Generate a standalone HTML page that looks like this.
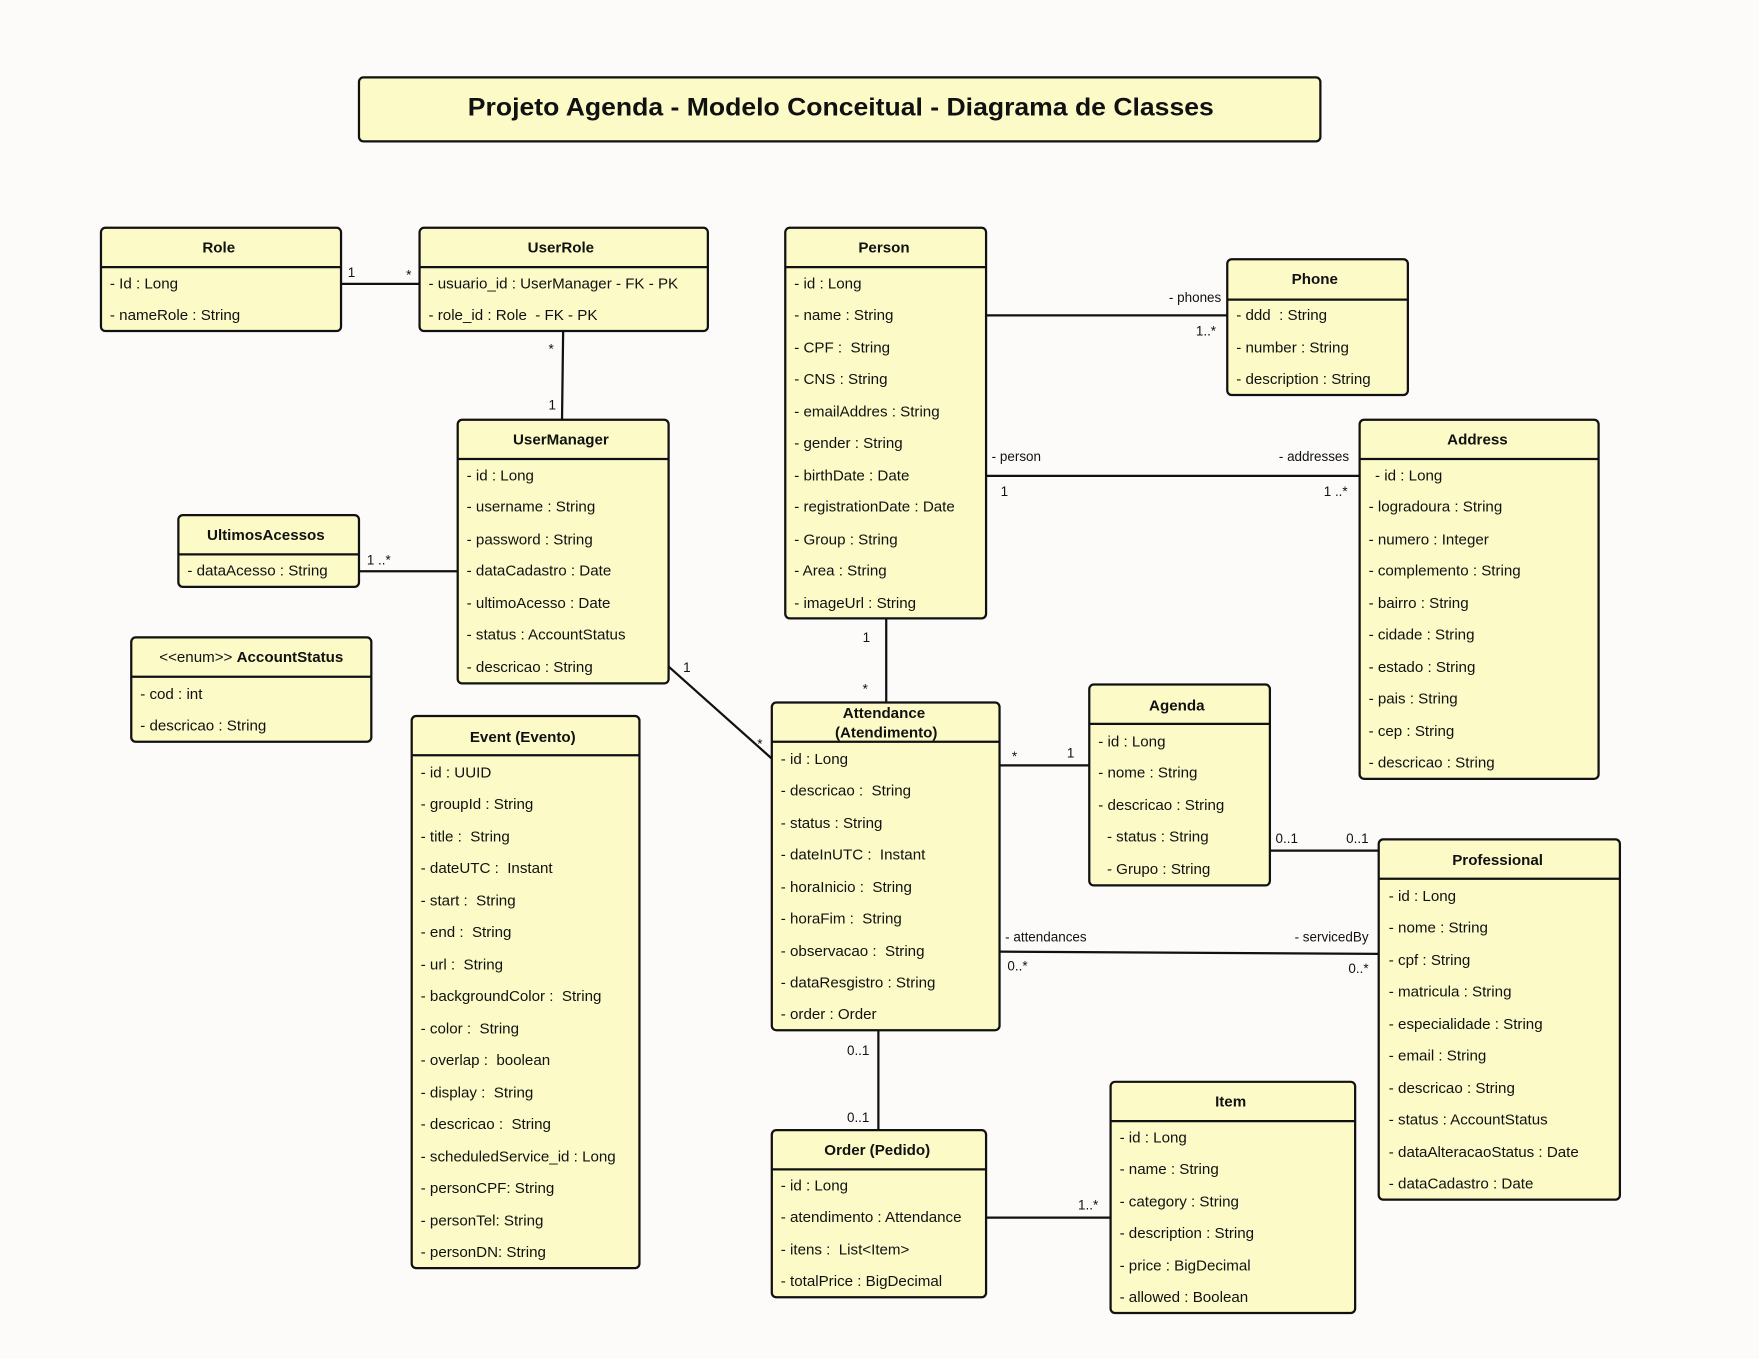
<!DOCTYPE html>
<html><head><meta charset="utf-8"><style>
html,body{margin:0;padding:0;background:#fdfafa;}
svg{display:block;}
text{font-family:"Liberation Sans",Arial,sans-serif;fill:#111;white-space:pre;}
.r{font-size:13.5px;}
.h{font-size:13.5px;font-weight:bold;text-anchor:middle;}
.s{font-size:12px;}
.b{fill:#fcfbc8;stroke:#111;stroke-width:2;}
.l{stroke:#111;stroke-width:2;fill:none;}
</style></head><body>
<svg width="1759" height="1359" viewBox="0 0 1568 1211" preserveAspectRatio="none" xml:space="preserve">
<rect x="0" y="0" width="1568" height="1211" fill="#fdfafa"/>
<rect class="b" x="320" y="69" width="857" height="57" rx="4"/>
<text x="417" y="103" textLength="665" lengthAdjust="spacingAndGlyphs" style="font-size:22px;font-weight:bold">Projeto Agenda - Modelo Conceitual - Diagrama de Classes</text>

<line class="l" x1="304" y1="253" x2="374" y2="253"/>
<text class="s" x="310" y="247">1</text><text class="s" x="362" y="249">*</text>
<line class="l" x1="502" y1="295" x2="501" y2="374"/>
<text class="s" x="489" y="315">*</text><text class="s" x="489" y="365">1</text>
<line class="l" x1="320" y1="509" x2="408" y2="509"/>
<text class="s" x="327" y="503">1 ..*</text>
<line class="l" x1="596" y1="594" x2="688" y2="676"/>
<text class="s" x="609" y="599">1</text><text class="s" x="675" y="667">*</text>
<line class="l" x1="879" y1="281" x2="1094" y2="281"/>
<text class="s" x="1042" y="269">- phones</text><text class="s" x="1066" y="299">1..*</text>
<line class="l" x1="879" y1="424" x2="1212" y2="424"/>
<text class="s" x="884" y="411">- person</text><text class="s" x="892" y="442">1</text>
<text class="s" x="1140" y="411">- addresses</text><text class="s" x="1180" y="442">1 ..*</text>
<line class="l" x1="790" y1="551" x2="790" y2="626"/>
<text class="s" x="769" y="572">1</text><text class="s" x="769" y="618">*</text>
<line class="l" x1="891" y1="682" x2="971" y2="682"/>
<text class="s" x="902" y="678">*</text><text class="s" x="951" y="675">1</text>
<line class="l" x1="1132" y1="758" x2="1229" y2="758"/>
<text class="s" x="1137" y="751">0..1</text><text class="s" x="1200" y="751">0..1</text>
<line class="l" x1="891" y1="848" x2="1229" y2="850"/>
<text class="s" x="896" y="839">- attendances</text><text class="s" x="898" y="865">0..*</text>
<text class="s" x="1154" y="839">- servicedBy</text><text class="s" x="1202" y="867">0..*</text>
<line class="l" x1="783" y1="918" x2="783" y2="1007"/>
<text class="s" x="755" y="940">0..1</text><text class="s" x="755" y="1000">0..1</text>
<line class="l" x1="879" y1="1085" x2="990" y2="1085"/>
<text class="s" x="961" y="1078">1..*</text>

<rect class="b" x="90" y="203" width="214" height="92" rx="4"/>
<line class="l" x1="90" y1="238" x2="304" y2="238"/>
<text class="h" x="195" y="225">Role</text>
<text class="r" x="98" y="257">- Id : Long</text>
<text class="r" x="98" y="285">- nameRole : String</text>

<rect class="b" x="374" y="203" width="257" height="92" rx="4"/>
<line class="l" x1="374" y1="238" x2="631" y2="238"/>
<text class="h" x="500" y="225">UserRole</text>
<text class="r" x="382" y="257">- usuario_id : UserManager - FK - PK</text>
<text class="r" x="382" y="285">- role_id : Role  - FK - PK</text>

<rect class="b" x="700" y="203" width="179" height="348" rx="4"/>
<line class="l" x1="700" y1="238" x2="879" y2="238"/>
<text class="h" x="788" y="225">Person</text>
<text class="r" x="708" y="257">- id : Long</text>
<text class="r" x="708" y="285">- name : String</text>
<text class="r" x="708" y="314">- CPF :  String</text>
<text class="r" x="708" y="342">- CNS : String</text>
<text class="r" x="708" y="371">- emailAddres : String</text>
<text class="r" x="708" y="399">- gender : String</text>
<text class="r" x="708" y="428">- birthDate : Date</text>
<text class="r" x="708" y="456">- registrationDate : Date</text>
<text class="r" x="708" y="485">- Group : String</text>
<text class="r" x="708" y="513">- Area : String</text>
<text class="r" x="708" y="542">- imageUrl : String</text>

<rect class="b" x="1094" y="231" width="161" height="121" rx="4"/>
<line class="l" x1="1094" y1="267" x2="1255" y2="267"/>
<text class="h" x="1172" y="253">Phone</text>
<text class="r" x="1102" y="285">- ddd  : String</text>
<text class="r" x="1102" y="314">- number : String</text>
<text class="r" x="1102" y="342">- description : String</text>

<rect class="b" x="408" y="374" width="188" height="235" rx="4"/>
<line class="l" x1="408" y1="409" x2="596" y2="409"/>
<text class="h" x="500" y="396">UserManager</text>
<text class="r" x="416" y="428">- id : Long</text>
<text class="r" x="416" y="456">- username : String</text>
<text class="r" x="416" y="485">- password : String</text>
<text class="r" x="416" y="513">- dataCadastro : Date</text>
<text class="r" x="416" y="542">- ultimoAcesso : Date</text>
<text class="r" x="416" y="570">- status : AccountStatus</text>
<text class="r" x="416" y="599">- descricao : String</text>

<rect class="b" x="159" y="459" width="161" height="64" rx="4"/>
<line class="l" x1="159" y1="494" x2="320" y2="494"/>
<text class="h" x="237" y="481">UltimosAcessos</text>
<text class="r" x="167" y="513">- dataAcesso : String</text>

<rect class="b" x="117" y="568" width="214" height="93" rx="4"/>
<line class="l" x1="117" y1="603" x2="331" y2="603"/>
<text x="224" y="590" style="font-size:13.5px;text-anchor:middle">&lt;&lt;enum&gt;&gt; <tspan font-weight="bold">AccountStatus</tspan></text>
<text class="r" x="125" y="623">- cod : int</text>
<text class="r" x="125" y="651">- descricao : String</text>

<rect class="b" x="367" y="638" width="203" height="492" rx="4"/>
<line class="l" x1="367" y1="673" x2="570" y2="673"/>
<text class="h" x="466" y="661">Event (Evento)</text>
<text class="r" x="375" y="693">- id : UUID</text>
<text class="r" x="375" y="721">- groupId : String</text>
<text class="r" x="375" y="750">- title :  String</text>
<text class="r" x="375" y="778">- dateUTC :  Instant</text>
<text class="r" x="375" y="807">- start :  String</text>
<text class="r" x="375" y="835">- end :  String</text>
<text class="r" x="375" y="864">- url :  String</text>
<text class="r" x="375" y="892">- backgroundColor :  String</text>
<text class="r" x="375" y="921">- color :  String</text>
<text class="r" x="375" y="949">- overlap :  boolean</text>
<text class="r" x="375" y="978">- display :  String</text>
<text class="r" x="375" y="1006">- descricao :  String</text>
<text class="r" x="375" y="1035">- scheduledService_id : Long</text>
<text class="r" x="375" y="1063">- personCPF: String</text>
<text class="r" x="375" y="1092">- personTel: String</text>
<text class="r" x="375" y="1120">- personDN: String</text>

<rect class="b" x="1212" y="374" width="213" height="320" rx="4"/>
<line class="l" x1="1212" y1="409" x2="1425" y2="409"/>
<text class="h" x="1317" y="396">Address</text>
<text class="r" x="1222" y="428"> - id : Long</text>
<text class="r" x="1220" y="456">- logradoura : String</text>
<text class="r" x="1220" y="485">- numero : Integer</text>
<text class="r" x="1220" y="513">- complemento : String</text>
<text class="r" x="1220" y="542">- bairro : String</text>
<text class="r" x="1220" y="570">- cidade : String</text>
<text class="r" x="1220" y="599">- estado : String</text>
<text class="r" x="1220" y="627">- pais : String</text>
<text class="r" x="1220" y="656">- cep : String</text>
<text class="r" x="1220" y="684">- descricao : String</text>

<rect class="b" x="688" y="626" width="203" height="292" rx="4"/>
<line class="l" x1="688" y1="661" x2="891" y2="661"/>
<text class="h" x="788" y="640">Attendance</text>
<text class="h" x="790" y="657">(Atendimento)</text>
<text class="r" x="696" y="681">- id : Long</text>
<text class="r" x="696" y="709">- descricao :  String</text>
<text class="r" x="696" y="738">- status : String</text>
<text class="r" x="696" y="766">- dateInUTC :  Instant</text>
<text class="r" x="696" y="795">- horaInicio :  String</text>
<text class="r" x="696" y="823">- horaFim :  String</text>
<text class="r" x="696" y="852">- observacao :  String</text>
<text class="r" x="696" y="880">- dataResgistro : String</text>
<text class="r" x="696" y="908">- order : Order</text>

<rect class="b" x="971" y="610" width="161" height="179" rx="4"/>
<line class="l" x1="971" y1="645" x2="1132" y2="645"/>
<text class="h" x="1049" y="633">Agenda</text>
<text class="r" x="979" y="665">- id : Long</text>
<text class="r" x="979" y="693">- nome : String</text>
<text class="r" x="979" y="722">- descricao : String</text>
<text class="r" x="983" y="750"> - status : String</text>
<text class="r" x="983" y="779"> - Grupo : String</text>

<rect class="b" x="1229" y="748" width="215" height="321" rx="4"/>
<line class="l" x1="1229" y1="783" x2="1444" y2="783"/>
<text class="h" x="1335" y="771">Professional</text>
<text class="r" x="1238" y="803">- id : Long</text>
<text class="r" x="1238" y="831">- nome : String</text>
<text class="r" x="1238" y="860">- cpf : String</text>
<text class="r" x="1238" y="888">- matricula : String</text>
<text class="r" x="1238" y="917">- especialidade : String</text>
<text class="r" x="1238" y="945">- email : String</text>
<text class="r" x="1238" y="974">- descricao : String</text>
<text class="r" x="1238" y="1002">- status : AccountStatus</text>
<text class="r" x="1238" y="1031">- dataAlteracaoStatus : Date</text>
<text class="r" x="1238" y="1059">- dataCadastro : Date</text>

<rect class="b" x="688" y="1007" width="191" height="149" rx="4"/>
<line class="l" x1="688" y1="1042" x2="879" y2="1042"/>
<text class="h" x="782" y="1029">Order (Pedido)</text>
<text class="r" x="696" y="1061">- id : Long</text>
<text class="r" x="696" y="1089">- atendimento : Attendance</text>
<text class="r" x="696" y="1118">- itens :  List&lt;Item&gt;</text>
<text class="r" x="696" y="1146">- totalPrice : BigDecimal</text>

<rect class="b" x="990" y="964" width="218" height="206" rx="4"/>
<line class="l" x1="990" y1="999" x2="1208" y2="999"/>
<text class="h" x="1097" y="986">Item</text>
<text class="r" x="998" y="1018">- id : Long</text>
<text class="r" x="998" y="1046">- name : String</text>
<text class="r" x="998" y="1075">- category : String</text>
<text class="r" x="998" y="1103">- description : String</text>
<text class="r" x="998" y="1132">- price : BigDecimal</text>
<text class="r" x="998" y="1160">- allowed : Boolean</text>
</svg>
</body></html>
